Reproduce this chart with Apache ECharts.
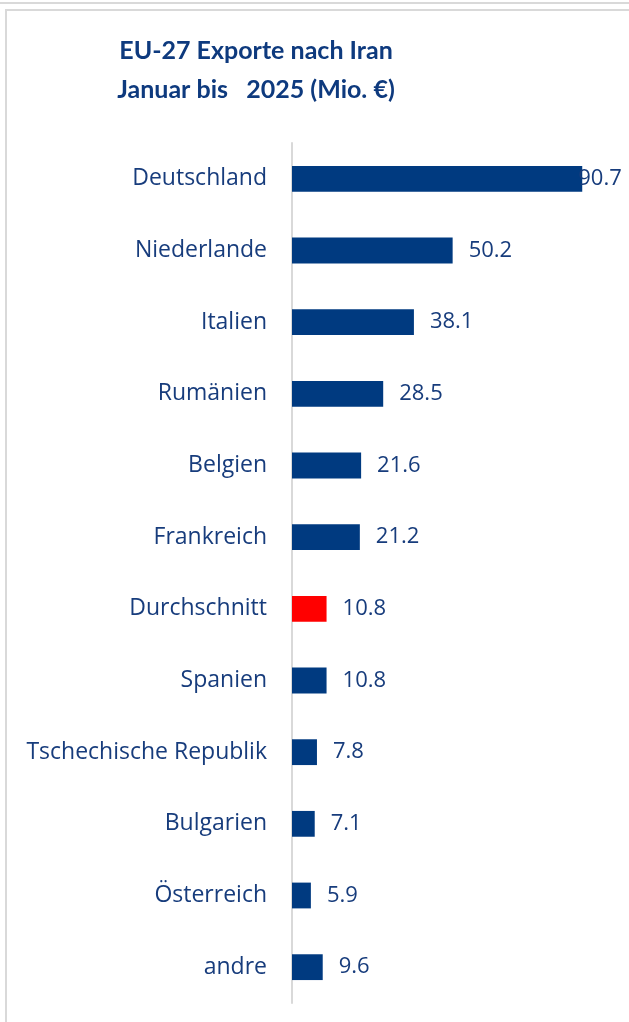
<!DOCTYPE html>
<html>
<head>
<meta charset="utf-8">
<style>
    html, body { margin: 0; padding: 0; background: #fff; }
    #chart-1 { width: 629px; height: 1022px; }
</style>
<script src="https://cdn.jsdelivr.net/npm/echarts@6/dist/echarts.min.js"></script>
</head>
<body>
<div id="chart-1"></div>
<script>
// Länder und Werte (Mio. €)
var countries = ['Deutschland', 'Niederlande', 'Italien', 'Rumänien', 'Belgien', 'Frankreich',
    'Durchschnitt', 'Spanien', 'Tschechische Republik', 'Bulgarien', 'Österreich', 'andre'];
var exportValues = [90.7, 50.2, 38.1, 28.5, 21.6, 21.2, 10.8, 10.8, 7.8, 7.1, 5.9, 9.6];
var titleLines = ['EU-27 Exporte nach Iran', 'Januar bis   2025 (Mio. €)'];

initChart1();

function initChart1() {
    var dom = document.getElementById("chart-1");
    var myChart1 = echarts.init(dom);
    var blue = '#003A80';
    var textBlue = '#173C7C';
    var font = '"Open Sans"';

    var barData = exportValues.map(function(v, i) {
        var item = { value: v };
        if (countries[i] === 'Durchschnitt') {
            item.itemStyle = { color: '#FF0000' };
        }
        if (i === 0) {
            // Excel-Label sitzt hier fast auf dem Balken
            item.label = { distance: -4 };
        }
        return item;
    });

    var option = {
        animation: false,
        title: {
            text: titleLines.join('\n'),
            left: 251,
            top: 26,
            textAlign: 'center',
            textStyle: {
                color: '#0E3A7E',
                fontFamily: 'Lato',
                fontWeight: 'bold',
                fontSize: 25,
                lineHeight: 39
            }
        },
        graphic: [{
            type: 'line',
            shape: { x1: 0, y1: 3, x2: 629, y2: 3 },
            style: { stroke: '#D9D9D9', lineWidth: 2 }
        }, {
            type: 'rect',
            shape: { x: 6, y: 10, width: 800, height: 1200 },
            style: { fill: 'none', stroke: '#D9D9D9', lineWidth: 2 }
        }],
        grid: {
            left: 292,
            top: 143,
            width: 320,
            height: 860
        },
        xAxis: {
            type: 'value',
            min: 0,
            max: 100,
            show: false
        },
        yAxis: {
            type: 'category',
            inverse: true,
            data: countries,
            axisLine: {
                lineStyle: { color: '#D9D9D9', width: 2 }
            },
            axisTick: { show: false },
            axisLabel: {
                color: textBlue,
                fontFamily: font,
                fontSize: 23,
                margin: 25
            }
        },
        series: [{
            type: 'bar',
            data: barData,
            barWidth: '36%',
            itemStyle: { color: blue },
            label: {
                show: true,
                position: 'right',
                distance: 16,
                color: textBlue,
                fontFamily: font,
                fontSize: 22,
                formatter: function(p) {
                    return p.value.toFixed(1);
                }
            }
        }]
    };

    if (option && typeof option === "object") {
        myChart1.setOption(option, true);
        window.onresize = myChart1.resize;
    }
}
</script>
</body>
</html>
